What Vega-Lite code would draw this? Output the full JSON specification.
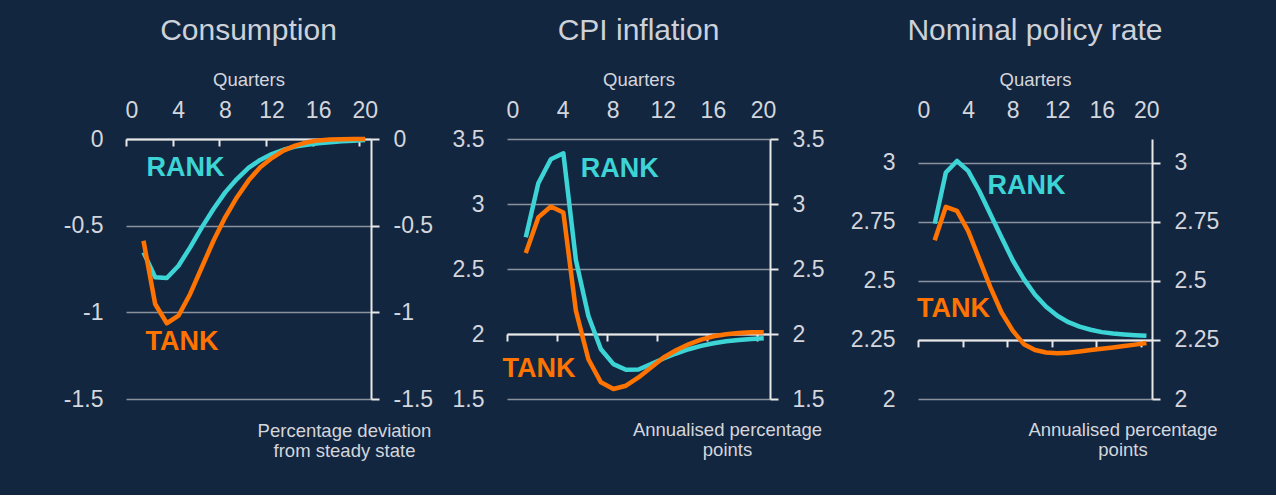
{
  "$schema": "https://vega.github.io/schema/vega-lite/v6.json",
  "background": "#132640",
  "padding": {"left": 63, "top": 16, "right": 58, "bottom": 35},
  "config": {
    "font": "Liberation Sans",
    "view": {"stroke": null},
    "title": {"font": "Liberation Sans", "fontSize": 30, "fontWeight": "normal", "color": "#cdd1d8", "anchor": "middle", "frame": "group", "offset": 24},
    "axis": {"labelFont": "Liberation Sans", "titleFont": "Liberation Sans", "labelColor": "#d3d6dc", "titleColor": "#d3d6dc", "labelFontSize": 23, "titleFontSize": 18.5, "titleFontWeight": "normal", "labelFlush": false}
  },
  "datasets": {
    "cons": [
      {"q": 1.5, "model": "RANK", "value": -0.654}, {"q": 2.5, "model": "RANK", "value": -0.798}, {"q": 3.5, "model": "RANK", "value": -0.802}, {"q": 4.5, "model": "RANK", "value": -0.731}, {"q": 5.5, "model": "RANK", "value": -0.625}, {"q": 6.5, "model": "RANK", "value": -0.51}, {"q": 7.5, "model": "RANK", "value": -0.404}, {"q": 8.5, "model": "RANK", "value": -0.308}, {"q": 9.5, "model": "RANK", "value": -0.231}, {"q": 10.5, "model": "RANK", "value": -0.167}, {"q": 11.5, "model": "RANK", "value": -0.121}, {"q": 12.5, "model": "RANK", "value": -0.087}, {"q": 13.5, "model": "RANK", "value": -0.062}, {"q": 14.5, "model": "RANK", "value": -0.044}, {"q": 15.5, "model": "RANK", "value": -0.033}, {"q": 16.5, "model": "RANK", "value": -0.025}, {"q": 17.5, "model": "RANK", "value": -0.019}, {"q": 18.5, "model": "RANK", "value": -0.013}, {"q": 19.5, "model": "RANK", "value": -0.01}, {"q": 20.5, "model": "RANK", "value": -0.006},
      {"q": 1.5, "model": "TANK", "value": -0.587}, {"q": 2.5, "model": "TANK", "value": -0.952}, {"q": 3.5, "model": "TANK", "value": -1.063}, {"q": 4.5, "model": "TANK", "value": -1.019}, {"q": 5.5, "model": "TANK", "value": -0.894}, {"q": 6.5, "model": "TANK", "value": -0.74}, {"q": 7.5, "model": "TANK", "value": -0.587}, {"q": 8.5, "model": "TANK", "value": -0.452}, {"q": 9.5, "model": "TANK", "value": -0.337}, {"q": 10.5, "model": "TANK", "value": -0.24}, {"q": 11.5, "model": "TANK", "value": -0.163}, {"q": 12.5, "model": "TANK", "value": -0.11}, {"q": 13.5, "model": "TANK", "value": -0.067}, {"q": 14.5, "model": "TANK", "value": -0.038}, {"q": 15.5, "model": "TANK", "value": -0.019}, {"q": 16.5, "model": "TANK", "value": -0.008}, {"q": 17.5, "model": "TANK", "value": -0.003}, {"q": 18.5, "model": "TANK", "value": -0.001}, {"q": 19.5, "model": "TANK", "value": 0}, {"q": 20.5, "model": "TANK", "value": 0}
    ],
    "cpi": [
      {"q": 1.5, "model": "RANK", "value": 2.744}, {"q": 2.5, "model": "RANK", "value": 3.16}, {"q": 3.5, "model": "RANK", "value": 3.344}, {"q": 4.5, "model": "RANK", "value": 3.39}, {"q": 5.5, "model": "RANK", "value": 2.57}, {"q": 6.5, "model": "RANK", "value": 2.139}, {"q": 7.5, "model": "RANK", "value": 1.883}, {"q": 8.5, "model": "RANK", "value": 1.768}, {"q": 9.5, "model": "RANK", "value": 1.725}, {"q": 10.5, "model": "RANK", "value": 1.727}, {"q": 11.5, "model": "RANK", "value": 1.768}, {"q": 12.5, "model": "RANK", "value": 1.812}, {"q": 13.5, "model": "RANK", "value": 1.85}, {"q": 14.5, "model": "RANK", "value": 1.883}, {"q": 15.5, "model": "RANK", "value": 1.909}, {"q": 16.5, "model": "RANK", "value": 1.929}, {"q": 17.5, "model": "RANK", "value": 1.944}, {"q": 18.5, "model": "RANK", "value": 1.954}, {"q": 19.5, "model": "RANK", "value": 1.962}, {"q": 20.5, "model": "RANK", "value": 1.967},
      {"q": 1.5, "model": "TANK", "value": 2.624}, {"q": 2.5, "model": "TANK", "value": 2.897}, {"q": 3.5, "model": "TANK", "value": 2.981}, {"q": 4.5, "model": "TANK", "value": 2.935}, {"q": 5.5, "model": "TANK", "value": 2.18}, {"q": 6.5, "model": "TANK", "value": 1.806}, {"q": 7.5, "model": "TANK", "value": 1.628}, {"q": 8.5, "model": "TANK", "value": 1.577}, {"q": 9.5, "model": "TANK", "value": 1.602}, {"q": 10.5, "model": "TANK", "value": 1.666}, {"q": 11.5, "model": "TANK", "value": 1.743}, {"q": 12.5, "model": "TANK", "value": 1.819}, {"q": 13.5, "model": "TANK", "value": 1.875}, {"q": 14.5, "model": "TANK", "value": 1.921}, {"q": 15.5, "model": "TANK", "value": 1.957}, {"q": 16.5, "model": "TANK", "value": 1.983}, {"q": 17.5, "model": "TANK", "value": 1.998}, {"q": 18.5, "model": "TANK", "value": 2.008}, {"q": 19.5, "model": "TANK", "value": 2.013}, {"q": 20.5, "model": "TANK", "value": 2.013}
    ],
    "rate": [
      {"q": 1.5, "model": "RANK", "value": 2.742}, {"q": 2.5, "model": "RANK", "value": 2.958}, {"q": 3.5, "model": "RANK", "value": 3.007}, {"q": 4.5, "model": "RANK", "value": 2.965}, {"q": 5.5, "model": "RANK", "value": 2.88}, {"q": 6.5, "model": "RANK", "value": 2.782}, {"q": 7.5, "model": "RANK", "value": 2.683}, {"q": 8.5, "model": "RANK", "value": 2.587}, {"q": 9.5, "model": "RANK", "value": 2.507}, {"q": 10.5, "model": "RANK", "value": 2.441}, {"q": 11.5, "model": "RANK", "value": 2.39}, {"q": 12.5, "model": "RANK", "value": 2.352}, {"q": 13.5, "model": "RANK", "value": 2.325}, {"q": 14.5, "model": "RANK", "value": 2.306}, {"q": 15.5, "model": "RANK", "value": 2.293}, {"q": 16.5, "model": "RANK", "value": 2.283}, {"q": 17.5, "model": "RANK", "value": 2.277}, {"q": 18.5, "model": "RANK", "value": 2.273}, {"q": 19.5, "model": "RANK", "value": 2.27}, {"q": 20.5, "model": "RANK", "value": 2.268},
      {"q": 1.5, "model": "TANK", "value": 2.672}, {"q": 2.5, "model": "TANK", "value": 2.813}, {"q": 3.5, "model": "TANK", "value": 2.796}, {"q": 4.5, "model": "TANK", "value": 2.711}, {"q": 5.5, "model": "TANK", "value": 2.592}, {"q": 6.5, "model": "TANK", "value": 2.472}, {"q": 7.5, "model": "TANK", "value": 2.366}, {"q": 8.5, "model": "TANK", "value": 2.289}, {"q": 9.5, "model": "TANK", "value": 2.232}, {"q": 10.5, "model": "TANK", "value": 2.207}, {"q": 11.5, "model": "TANK", "value": 2.197}, {"q": 12.5, "model": "TANK", "value": 2.194}, {"q": 13.5, "model": "TANK", "value": 2.196}, {"q": 14.5, "model": "TANK", "value": 2.201}, {"q": 15.5, "model": "TANK", "value": 2.207}, {"q": 16.5, "model": "TANK", "value": 2.213}, {"q": 17.5, "model": "TANK", "value": 2.218}, {"q": 18.5, "model": "TANK", "value": 2.224}, {"q": 19.5, "model": "TANK", "value": 2.23}, {"q": 20.5, "model": "TANK", "value": 2.237}
    ],
    "cons_lbl": [{"label": "RANK", "model": "RANK", "q": 5.1, "value": -0.212}, {"label": "TANK", "model": "TANK", "q": 4.79, "value": -1.216}],
    "cpi_lbl": [{"label": "RANK", "model": "RANK", "q": 9.0, "value": 3.211}, {"label": "TANK", "model": "TANK", "q": 2.56, "value": 1.673}],
    "rate_lbl": [{"label": "RANK", "model": "RANK", "q": 9.74, "value": 2.869}, {"label": "TANK", "model": "TANK", "q": 3.19, "value": 2.348}]
  },
  "hconcat": [
    {
      "spacing": 19,
      "hconcat": [
        {
          "width": 245, "height": 260,
          "title": {"text": "Consumption"},
          "resolve": {"axis": {"x": "independent", "y": "independent"}},
          "layer": [
            {
              "data": {"name": "cons"},
              "mark": {"type": "line", "strokeWidth": 4.5, "strokeJoin": "round"},
              "encoding": {
                "x": {"field": "q", "type": "quantitative", "scale": {"domain": [0, 21], "nice": false, "zero": false},
                      "axis": {"orient": "top", "values": [0, 4, 8, 12, 16, 20], "domain": false, "ticks": false, "tickSize": 0, "grid": false, "labelPadding": 22, "labelBaseline": "alphabetic", "labelOffset": 5.5, "title": "Quarters", "titleY": -54, "titleBaseline": "alphabetic"}},
                "y": {"field": "value", "type": "quantitative", "scale": {"domain": [-1.5, 0], "nice": false, "zero": false},
                      "axis": {"orient": "left", "values": [-1.5, -1, -0.5, 0], "domain": false, "ticks": false, "tickSize": 0, "labelPadding": 23, "labelExpr": "'' + datum.value", "grid": true, "gridColor": {"condition": {"test": "datum.value === 0", "value": "#e8e8e8"}, "value": "#8a929e"}, "gridWidth": 1.6, "title": null}},
                "color": {"field": "model", "type": "nominal", "scale": {"domain": ["RANK", "TANK"], "range": ["#3dd4d6", "#ff7300"]}, "legend": null}
              }
            },
            {
              "data": {"name": "cons_lbl"},
              "mark": {"type": "text", "fontSize": 27, "fontWeight": "bold", "align": "center", "baseline": "alphabetic"},
              "encoding": {
                "x": {"field": "q", "type": "quantitative", "scale": {"domain": [0, 21], "nice": false, "zero": false},
                      "axis": {"orient": "bottom", "offset": -260, "values": [0, 4, 8, 12, 16, 20], "domain": true, "domainColor": "#e8e8e8", "domainWidth": 2, "ticks": true, "tickColor": "#e8e8e8", "tickWidth": 2, "tickSize": 7, "labels": false, "grid": false, "title": null}},
                "y": {"field": "value", "type": "quantitative", "scale": {"domain": [-1.5, 0], "nice": false, "zero": false},
                      "axis": {"orient": "right", "values": [-1.5, -1, -0.5, 0], "domain": true, "domainColor": "#e8e8e8", "domainWidth": 2, "ticks": true, "tickColor": "#e8e8e8", "tickWidth": 2, "tickSize": 8, "labelPadding": 14, "labelExpr": "'' + datum.value", "grid": false,
                               "title": ["Percentage deviation", "from steady state"], "titleAngle": 0, "titleX": -27, "titleY": 297, "titleAlign": "center", "titleBaseline": "alphabetic", "titleLineHeight": 20.5}},
                "text": {"field": "label"},
                "color": {"field": "model", "type": "nominal", "scale": {"domain": ["RANK", "TANK"], "range": ["#3dd4d6", "#ff7300"]}, "legend": null}
              }
            }
          ]
        },
        {
          "width": 263, "height": 260,
          "title": {"text": "CPI inflation"},
          "resolve": {"axis": {"x": "independent", "y": "independent"}},
          "layer": [
            {
              "data": {"name": "cpi"},
              "mark": {"type": "line", "strokeWidth": 4.5, "strokeJoin": "round"},
              "encoding": {
                "x": {"field": "q", "type": "quantitative", "scale": {"domain": [0, 21], "nice": false, "zero": false},
                      "axis": {"orient": "top", "values": [0, 4, 8, 12, 16, 20], "domain": false, "ticks": false, "tickSize": 0, "grid": false, "labelPadding": 22, "labelBaseline": "alphabetic", "labelOffset": 5.5, "title": "Quarters", "titleY": -54, "titleBaseline": "alphabetic"}},
                "y": {"field": "value", "type": "quantitative", "scale": {"domain": [1.5, 3.5], "nice": false, "zero": false},
                      "axis": {"orient": "left", "values": [1.5, 2, 2.5, 3, 3.5], "domain": false, "ticks": false, "tickSize": 0, "labelPadding": 23, "labelExpr": "'' + datum.value", "grid": true, "gridColor": {"condition": {"test": "datum.value === 2", "value": "#e8e8e8"}, "value": "#8a929e"}, "gridWidth": 1.6, "title": null}},
                "color": {"field": "model", "type": "nominal", "scale": {"domain": ["RANK", "TANK"], "range": ["#3dd4d6", "#ff7300"]}, "legend": null}
              }
            },
            {
              "data": {"name": "cpi_lbl"},
              "mark": {"type": "text", "fontSize": 27, "fontWeight": "bold", "align": "center", "baseline": "alphabetic"},
              "encoding": {
                "x": {"field": "q", "type": "quantitative", "scale": {"domain": [0, 21], "nice": false, "zero": false},
                      "axis": {"orient": "bottom", "offset": -65, "values": [0, 4, 8, 12, 16, 20], "domain": true, "domainColor": "#e8e8e8", "domainWidth": 2, "ticks": true, "tickColor": "#e8e8e8", "tickWidth": 2, "tickSize": 7, "labels": false, "grid": false, "title": null}},
                "y": {"field": "value", "type": "quantitative", "scale": {"domain": [1.5, 3.5], "nice": false, "zero": false},
                      "axis": {"orient": "right", "values": [1.5, 2, 2.5, 3, 3.5], "domain": true, "domainColor": "#e8e8e8", "domainWidth": 2, "ticks": true, "tickColor": "#e8e8e8", "tickWidth": 2, "tickSize": 8, "labelPadding": 14, "labelExpr": "'' + datum.value", "grid": false,
                               "title": ["Annualised percentage", "points"], "titleAngle": 0, "titleX": -43, "titleY": 296, "titleAlign": "center", "titleBaseline": "alphabetic", "titleLineHeight": 20.5}},
                "text": {"field": "label"},
                "color": {"field": "model", "type": "nominal", "scale": {"domain": ["RANK", "TANK"], "range": ["#3dd4d6", "#ff7300"]}, "legend": null}
              }
            }
          ]
        }
      ]
    },
    {
      "width": 234, "height": 260,
      "title": {"text": "Nominal policy rate"},
      "resolve": {"axis": {"x": "independent", "y": "independent"}},
      "layer": [
        {
          "data": {"name": "rate"},
          "mark": {"type": "line", "strokeWidth": 4.5, "strokeJoin": "round"},
          "encoding": {
            "x": {"field": "q", "type": "quantitative", "scale": {"domain": [0, 21], "nice": false, "zero": false},
                  "axis": {"orient": "top", "values": [0, 4, 8, 12, 16, 20], "domain": false, "ticks": false, "tickSize": 0, "grid": false, "labelPadding": 22, "labelBaseline": "alphabetic", "labelOffset": 5.5, "title": "Quarters", "titleY": -54, "titleBaseline": "alphabetic"}},
            "y": {"field": "value", "type": "quantitative", "scale": {"domain": [2, 3.1], "nice": false, "zero": false},
                  "axis": {"orient": "left", "values": [2, 2.25, 2.5, 2.75, 3], "domain": false, "ticks": false, "tickSize": 0, "labelPadding": 23, "labelExpr": "'' + datum.value", "grid": true, "gridColor": {"condition": {"test": "datum.value === 2.25", "value": "#e8e8e8"}, "value": "#8a929e"}, "gridWidth": 1.6, "title": null}},
            "color": {"field": "model", "type": "nominal", "scale": {"domain": ["RANK", "TANK"], "range": ["#3dd4d6", "#ff7300"]}, "legend": null}
          }
        },
        {
          "data": {"name": "rate_lbl"},
          "mark": {"type": "text", "fontSize": 27, "fontWeight": "bold", "align": "center", "baseline": "alphabetic"},
          "encoding": {
            "x": {"field": "q", "type": "quantitative", "scale": {"domain": [0, 21], "nice": false, "zero": false},
                  "axis": {"orient": "bottom", "offset": -59.1, "values": [0, 4, 8, 12, 16, 20], "domain": true, "domainColor": "#e8e8e8", "domainWidth": 2, "ticks": true, "tickColor": "#e8e8e8", "tickWidth": 2, "tickSize": 7, "labels": false, "grid": false, "title": null}},
            "y": {"field": "value", "type": "quantitative", "scale": {"domain": [2, 3.1], "nice": false, "zero": false},
                  "axis": {"orient": "right", "values": [2, 2.25, 2.5, 2.75, 3], "domain": true, "domainColor": "#e8e8e8", "domainWidth": 2, "ticks": true, "tickColor": "#e8e8e8", "tickWidth": 2, "tickSize": 8, "labelPadding": 14, "labelExpr": "'' + datum.value", "grid": false,
                           "title": ["Annualised percentage", "points"], "titleAngle": 0, "titleX": -29.5, "titleY": 296, "titleAlign": "center", "titleBaseline": "alphabetic", "titleLineHeight": 20.5}},
            "text": {"field": "label"},
            "color": {"field": "model", "type": "nominal", "scale": {"domain": ["RANK", "TANK"], "range": ["#3dd4d6", "#ff7300"]}, "legend": null}
          }
        }
      ]
    }
  ],
  "spacing": 26
}
